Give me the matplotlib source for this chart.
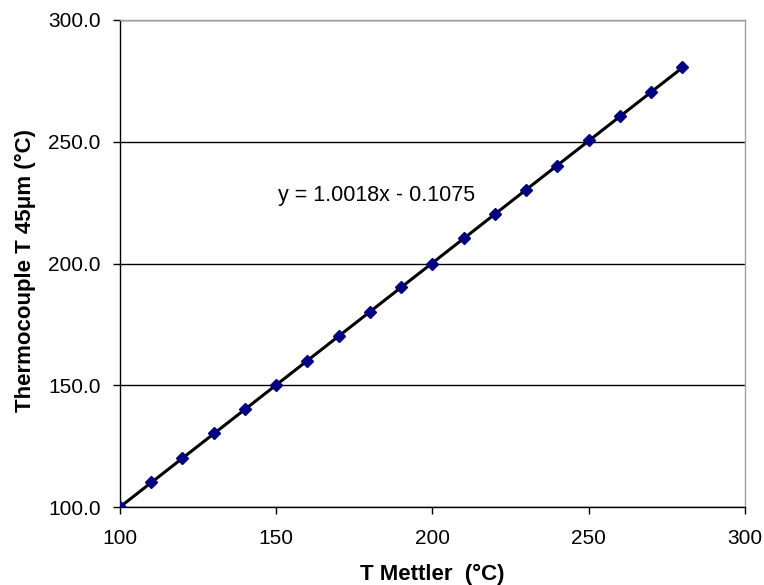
#!/usr/bin/env python3
import numpy as np
import matplotlib
matplotlib.use('Agg')
import matplotlib.pyplot as plt

plt.rcParams.update({
    'font.family': ['Liberation Sans', 'DejaVu Sans'],
    'font.size': 15,
})

# Calibration data
t_mettler = [100, 110, 120, 130, 140, 150, 160, 170, 180, 190,
             200, 210, 220, 230, 240, 250, 260, 270, 280]
t_thermo = [100.1, 110.2, 120.0, 130.3, 140.2, 150.0, 160.1, 170.2, 180.3, 190.2,
            199.9, 210.3, 220.4, 230.3, 240.2, 250.6, 260.7, 270.4, 280.8]

# Linear trendline coefficients as displayed
fit_slope = 1.0018
fit_intercept = -0.1075
fit_label = "y = 1.0018x - 0.1075"

x_ticks = [100, 150, 200, 250, 300]
y_ticks = [100, 150, 200, 250, 300]


def main():
    fig = plt.figure(figsize=(7.64, 5.85), dpi=100)
    ax = fig.add_axes([0.157, 0.133, 0.818, 0.833])

    x = np.array(t_mettler, dtype=float)
    ax.plot(x, np.polyval([fit_slope, fit_intercept], x),
            color='black', linewidth=2.2, zorder=3)
    ax.plot(t_mettler, t_thermo, linestyle='none', marker='D',
            markersize=6.5, color='#000080', markeredgecolor='#000080', zorder=4)

    ax.text(150.6, 228, fit_label, fontsize=15.5, va='center', ha='left')

    ax.set_xlim(100, 300)
    ax.set_ylim(100, 300)
    ax.set_xticks(x_ticks)
    ax.set_yticks(y_ticks)
    ax.set_yticklabels([f"{v:.1f}" for v in y_ticks])

    ax.grid(True, axis='y', color='black', linewidth=1.0)
    ax.set_axisbelow(True)

    for side in ['left', 'bottom']:
        ax.spines[side].set_color('black')
        ax.spines[side].set_linewidth(1.0)
    for side in ['top', 'right']:
        ax.spines[side].set_color('#a0a0a0')
        ax.spines[side].set_linewidth(1.0)

    ax.tick_params(direction='out', length=5, width=1, labelsize=15)
    ax.tick_params(axis='x', pad=11)
    ax.tick_params(axis='y', pad=9)

    ax.set_xlabel("T Mettler  (°C)", fontweight='bold', fontsize=16, labelpad=11)
    ax.set_ylabel("Thermocouple T 45μm (°C)", fontweight='bold', fontsize=16)
    ax.yaxis.set_label_coords(-0.134, 0.485)

    fig.savefig('out.png', dpi=100)
    plt.close(fig)


if __name__ == "__main__":
    main()
